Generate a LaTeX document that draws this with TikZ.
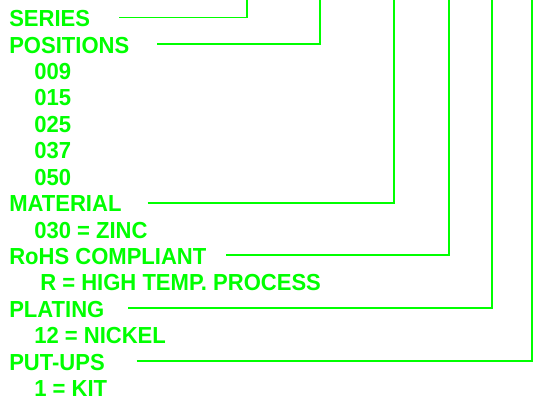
\documentclass[tikz,border=0pt]{standalone}
\usepackage{fontspec}
\setmainfont[FakeStretch=0.95]{Liberation Sans}
\definecolor{lgreen}{RGB}{0,255,0}
\begin{document}
\begin{tikzpicture}[x=0.75pt,y=-0.75pt,
  lbl/.style={anchor=base west,inner sep=0pt,text=lgreen,font=\fontsize{17.4pt}{20pt}\selectfont\bfseries},
  lead/.style={draw=lgreen,line width=1.4pt}]
\useasboundingbox (0,0) rectangle (540,401);
\node[lbl] (series)    at (9,26.6)   {SERIES};
\node[lbl] (positions) at (9,53.0)   {POSITIONS};
\node[lbl] (p009)      at (34,79.5)  {009};
\node[lbl] (p015)      at (34,105.9) {015};
\node[lbl] (p025)      at (34,132.3) {025};
\node[lbl] (p037)      at (34,158.8) {037};
\node[lbl] (p050)      at (34,185.2) {050};
\node[lbl] (material)  at (9,211.6)  {MATERIAL};
\node[lbl] (zinc)      at (34,238.0) {030 = ZINC};
\node[lbl] (rohs)      at (9,264.5)  {RoHS COMPLIANT};
\node[lbl] (hightemp)  at (40,290.9) {R = HIGH TEMP. PROCESS};
\node[lbl] (plating)   at (9,317.3)  {PLATING};
\node[lbl] (nickel)    at (34,343.8) {12 = NICKEL};
\node[lbl] (putups)    at (9,370.2)  {PUT-UPS};
\node[lbl] (kit)       at (34,396.6) {1 = KIT};
\coordinate (s1) at (119.3,17.5);  \coordinate (t1) at (246.7,-2);
\coordinate (s2) at (157.3,44.3);  \coordinate (t2) at (320,-2);
\coordinate (s3) at (147.7,202.7); \coordinate (t3) at (394,-2);
\coordinate (s4) at (226,255.3);   \coordinate (t4) at (449,-2);
\coordinate (s5) at (128.3,308.3); \coordinate (t5) at (492.3,-2);
\coordinate (s6) at (136.7,361.3); \coordinate (t6) at (532.3,-2);
\draw[lead] (s1) -| (t1);
\draw[lead] (s2) -| (t2);
\draw[lead] (s3) -| (t3);
\draw[lead] (s4) -| (t4);
\draw[lead] (s5) -| (t5);
\draw[lead] (s6) -| (t6);
\end{tikzpicture}
\end{document}
